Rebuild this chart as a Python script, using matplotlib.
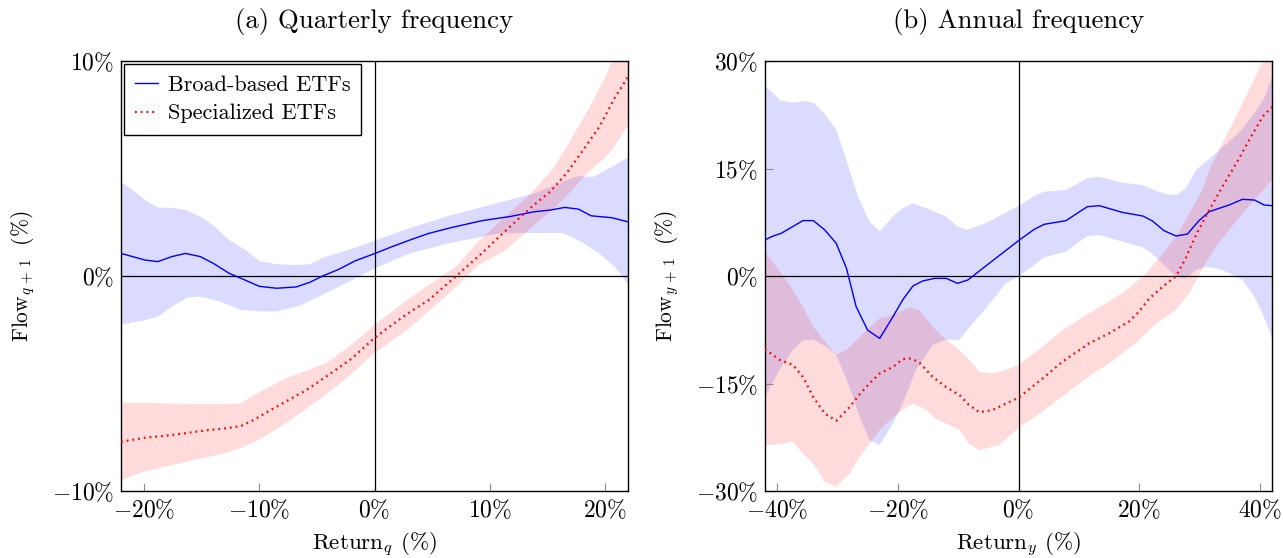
import numpy as np
import matplotlib
matplotlib.use("Agg")
import matplotlib.pyplot as plt
from matplotlib.ticker import FuncFormatter

plt.rcParams['font.family'] = 'cmr10'
plt.rcParams['mathtext.fontset'] = 'cm'
plt.rcParams['axes.unicode_minus'] = False
plt.rcParams['axes.formatter.use_mathtext'] = True

# ---------------- Panel (a): quarterly ----------------
bb_q_x = [-22.0, -19.9, -18.8, -17.6, -16.4, -15.1, -13.9, -12.6, -11.4, -10.0, -8.5, -6.8, -5.6, -4.5, -3.1,
          -1.7, 0.0, 1.5, 3.0, 4.7, 6.5, 9.3, 10.9, 11.7, 13.9, 15.3, 16.5, 17.7, 18.8, 20.6, 22.0]
bb_q_y = [1.05, 0.74, 0.67, 0.90, 1.05, 0.90, 0.56, 0.12, -0.15, -0.48, -0.57, -0.51, -0.29, 0.0, 0.31,
          0.70, 1.04, 1.36, 1.66, 1.98, 2.23, 2.57, 2.70, 2.76, 2.99, 3.07, 3.19, 3.11, 2.80, 2.71, 2.52]
bb_q_hi_x = [-22.0, -20.8, -19.9, -18.8, -17.6, -16.4, -15.1, -13.9, -12.6, -11.2, -10.0, -8.5, -6.8, -5.6,
             -4.5, -2.0, 0.0, 3.0, 6.5, 8.6, 10.9, 13.9, 16.3, 17.6, 19.0, 20.6, 22.0]
bb_q_hi = [4.38, 3.92, 3.53, 3.19, 3.17, 3.07, 2.76, 2.32, 1.67, 1.21, 0.70, 0.55, 0.50, 0.55,
           0.85, 1.25, 1.64, 2.22, 2.81, 3.10, 3.43, 3.84, 4.38, 4.64, 4.61, 5.08, 5.51]
bb_q_lo_x = [-22.0, -20.1, -18.8, -17.6, -16.2, -15.1, -13.4, -11.6, -10.0, -8.5, -6.5, -4.5, -2.75, 0.0,
             3.0, 6.5, 10.9, 13.5, 16.3, 17.7, 19.5, 20.9, 22.0]
bb_q_lo = [-2.25, -2.08, -1.89, -1.43, -0.99, -0.96, -1.19, -1.58, -1.65, -1.65, -1.38, -0.87, -0.41, 0.35,
           1.04, 1.53, 1.99, 2.0, 2.0, 1.67, 1.05, 0.4, -0.4]

sp_q_x = [-22.0, -19.9, -18.3, -16.5, -14.8, -13.0, -11.6, -10.5, -9.1, -7.7, -5.9, -4.2, -2.0, 0.0, 1.5,
          2.9, 4.7, 7.1, 9.3, 10.9, 13.5, 15.3, 16.7, 18.1, 19.5, 20.9, 22.0]
sp_q_y = [-7.71, -7.52, -7.44, -7.32, -7.19, -7.09, -6.98, -6.70, -6.26, -5.84, -5.30, -4.68, -3.85, -2.88,
          -2.28, -1.74, -1.12, 0.0, 1.05, 1.87, 3.15, 3.95, 4.80, 5.85, 6.93, 8.33, 9.26]
sp_q_band_x = [-22.0, -20.0, -16.0, -13.0, -11.6, -10.0, -7.7, -4.2, -2.0, 0.0, 3.0, 7.1, 9.0, 11.4, 13.5,
               15.5, 17.0, 18.5, 20.0, 20.6, 22.0]
sp_q_hi = [-5.89, -5.90, -5.95, -5.95, -5.92, -5.40, -4.76, -4.06, -3.20, -2.27, -1.05, 0.45, 1.60, 2.80,
           3.80, 5.00, 6.30, 7.70, 9.20, 10.0, 11.7]
sp_q_lo = [-9.49, -9.10, -8.60, -8.25, -8.00, -7.60, -6.85, -5.53, -4.55, -3.58, -2.45, -0.50, 0.50, 1.20,
           2.20, 3.10, 3.90, 4.80, 5.50, 5.85, 7.0]

# ---------------- Panel (b): annual ----------------
bb_y_x = [-42.0, -40.9, -39.3, -37.4, -35.7, -34.0, -32.1, -30.2, -28.5, -26.9, -25.0, -23.0, -20.8, -19.2,
          -17.5, -15.9, -13.9, -12.0, -10.1, -8.4, -4.85, 0.0, 2.6, 4.25, 7.85, 11.4, 13.4, 17.2, 20.6, 22.2,
          24.1, 26.1, 28.0, 29.9, 31.6, 34.9, 37.1, 39.1, 40.7, 42.0]
bb_y_y = [5.03, 5.5, 5.96, 6.9, 7.73, 7.73, 6.43, 4.56, 1.07, -4.28, -7.55, -8.71, -5.68, -3.35,
          -1.4, -0.7, -0.33, -0.33, -1.02, -0.56, 1.77, 4.93, 6.51, 7.21, 7.72, 9.67, 9.81, 8.88, 8.37, 7.67,
          6.33, 5.58, 5.86, 7.72, 8.98, 9.91, 10.7, 10.6, 9.91, 9.81]
bb_y_hi_x = [-42.0, -39.5, -37.6, -35.7, -34.0, -31.9, -30.2, -28.6, -26.6, -24.7, -23.0, -20.8, -19.2,
             -17.5, -15.3, -12.0, -10.1, -8.4, -4.85, 0.0, 2.6, 4.25, 7.85, 11.4, 13.4, 17.2, 20.6, 22.2,
             24.4, 26.1, 27.7, 29.4, 32.0, 33.7, 36.4, 39.1, 40.8, 42.0]
bb_y_hi = [26.6, 24.5, 24.2, 24.4, 24.2, 22.4, 20.4, 16.4, 11.1, 7.6, 6.2, 8.3, 9.46,
           10.15, 9.46, 8.3, 6.9, 6.43, 7.6, 9.8, 11.16, 11.77, 12.0, 13.63, 13.86, 13.02, 12.7, 12.09,
           11.44, 11.3, 12.23, 14.8, 16.6, 17.9, 19.9, 22.7, 25.0, 27.8]
bb_y_lo_x = [-42.0, -39.6, -37.4, -35.7, -34.0, -31.8, -30.2, -28.0, -26.3, -24.7, -23.0, -20.8, -19.2,
             -17.0, -14.2, -12.0, -9.8, -7.05, -4.3, -2.1, 0.0, 2.6, 4.25, 7.85, 11.4, 13.4, 17.2, 20.6,
             22.2, 24.1, 26.1, 27.7, 29.4, 31.3, 33.8, 37.1, 39.1, 40.4, 41.5, 42.0]
bb_y_lo = [-16.9, -13.1, -10.3, -9.0, -8.85, -9.9, -11.0, -15.5, -19.7, -22.9, -23.6, -20.6, -17.8,
           -13.1, -9.6, -8.9, -8.9, -6.1, -3.4, -1.0, -0.1, 1.53, 2.6, 3.4, 5.58, 5.72, 4.79, 4.0,
           3.07, 1.53, -0.1, -0.33, 0.84, 1.3, 0.84, -0.56, -2.88, -5.2, -7.5, -8.8]

sp_y_x = [-42.0, -39.6, -37.4, -35.7, -34.0, -32.1, -30.2, -28.0, -26.3, -24.7, -23.0, -20.8, -19.2, -17.8,
          -16.4, -14.2, -12.0, -9.8, -8.2, -6.5, -4.3, -2.1, 0.0, 4.0, 7.3, 11.7, 15.0, 18.3, 19.7, 21.7,
          23.9, 26.1, 27.7, 29.4, 31.6, 33.8, 36.4, 38.5, 40.5, 42.0]
sp_y_y = [-10.2, -11.7, -12.4, -14.1, -16.9, -19.2, -20.2, -18.3, -16.5, -15.0, -13.6, -12.7, -11.6, -11.5,
          -12.1, -14.1, -15.5, -16.6, -18.0, -19.0, -18.7, -17.8, -17.0, -14.3, -11.95, -9.4, -8.0, -6.37,
          -5.2, -3.12, -1.49, 0.0, 2.47, 5.72, 9.2, 12.47, 16.2, 19.4, 22.3, 23.6]
sp_y_hi_x = [-42.0, -37.9, -35.7, -34.0, -31.8, -30.2, -28.5, -26.3, -23.0, -21.4, -18.1, -16.4, -14.2,
             -12.0, -9.8, -7.6, -6.5, -4.3, -2.1, 0.0, 4.0, 7.3, 11.7, 15.0, 18.3, 21.1, 23.3, 26.1, 28.3,
             30.5, 31.6, 33.8, 36.6, 40.5, 42.0]
sp_y_hi = [3.4, -1.26, -4.3, -7.1, -9.4, -11.0, -10.3, -8.5, -5.9, -5.6, -4.4, -4.75, -7.1,
           -8.9, -10.3, -12.2, -13.4, -13.6, -13.1, -12.4, -9.86, -7.53, -5.2, -3.58, -1.72, 0.37, 2.47,
           5.49, 8.74, 12.0, 14.8, 18.5, 23.2, 30.0, 32.5]
sp_y_lo_x = [-42.0, -39.6, -37.4, -35.7, -34.0, -32.1, -30.2, -28.0, -26.3, -24.7, -23.0, -20.8, -19.2,
             -17.5, -15.3, -13.7, -12.0, -9.8, -8.2, -6.5, -3.2, 0.0, 4.0, 7.3, 11.7, 15.0, 19.4, 22.8,
             26.1, 28.3, 30.5, 32.7, 34.9, 37.1, 39.3, 41.5, 42.0]
sp_y_lo = [-23.6, -23.5, -23.1, -24.8, -26.2, -28.7, -29.4, -27.6, -25.2, -23.4, -21.5, -19.7, -18.7,
           -17.8, -18.7, -19.9, -20.6, -21.5, -23.4, -24.3, -23.6, -21.2, -18.9, -16.8, -14.0, -12.2,
           -9.4, -6.6, -4.74, -2.4, 1.07, 4.09, 6.42, 8.74, 10.8, 12.9, 13.3]

titles = ["(a) Quarterly frequency", "(b) Annual frequency"]
xlabels = [r"Return$_q$ (%)", r"Return$_y$ (%)"]
ylabels = [r"Flow$_{q\,+\,1}$ $\;$(%)", r"Flow$_{y\,+\,1}$ $\;$(%)"]
legend_labels = ["Broad-based ETFs", "Specialized ETFs"]
xticks_q = [-20, -10, 0, 10, 20]
yticks_q = [-10, 0, 10]
xticks_y = [-40, -20, 0, 20, 40]
yticks_y = [-30, -15, 0, 15, 30]

BLUE = "#0000ff"
RED = "#ff0000"
FILL_A = 0.14

W, H = 1283, 558
fig = plt.figure(figsize=(W / 100, H / 100), dpi=100)
ax1 = fig.add_axes([121 / W, 1 - 491 / H, 507 / W, 430 / H])
ax2 = fig.add_axes([765 / W, 1 - 491 / H, 507 / W, 430 / H])

pct = FuncFormatter(lambda v, p: r"$%d\%%$" % round(v))


def band(ax, xh, hi, xl, lo, color):
    xs = np.concatenate([np.asarray(xh), np.asarray(xl)[::-1]])
    ys = np.concatenate([np.asarray(hi), np.asarray(lo)[::-1]])
    ax.fill(xs, ys, color=color, alpha=FILL_A, lw=0, zorder=1)


panels = [
    (ax1, (bb_q_x, bb_q_y, bb_q_hi_x, bb_q_hi, bb_q_lo_x, bb_q_lo),
     (sp_q_x, sp_q_y, sp_q_band_x, sp_q_hi, sp_q_band_x, sp_q_lo), (-22, 22), (-10, 10), xticks_q, yticks_q),
    (ax2, (bb_y_x, bb_y_y, bb_y_hi_x, bb_y_hi, bb_y_lo_x, bb_y_lo),
     (sp_y_x, sp_y_y, sp_y_hi_x, sp_y_hi, sp_y_lo_x, sp_y_lo), (-42, 42), (-30, 30), xticks_y, yticks_y),
]

for i, (ax, bb, sp, xl, yl, xt, yt) in enumerate(panels):
    band(ax, bb[2], bb[3], bb[4], bb[5], BLUE)
    band(ax, sp[2], sp[3], sp[4], sp[5], RED)
    ax.axhline(0, color="black", lw=0.9, zorder=2)
    ax.axvline(0, color="black", lw=0.9, zorder=2)
    ax.plot(bb[0], bb[1], color=BLUE, lw=1.0, zorder=3, label=legend_labels[0])
    ax.plot(sp[0], sp[1], color=RED, lw=1.6, linestyle=(0, (0.8, 1.8)), zorder=3, label=legend_labels[1])
    ax.set_xlim(*xl)
    ax.set_ylim(*yl)
    ax.set_xticks(xt)
    ax.set_yticks(yt)
    ax.xaxis.set_major_formatter(pct)
    ax.yaxis.set_major_formatter(pct)
    ax.tick_params(direction="in", length=6, width=0.8, color="0.55", labelsize=17, pad=5)
    for s in ax.spines.values():
        s.set_linewidth(1.0)
        s.set_color("black")
    ax.set_title(titles[i], fontsize=19.3, pad=24)
    ax.set_xlabel(xlabels[i], fontsize=16.6, va="center")
    ax.xaxis.set_label_coords(0.5, -(545 - 491) / 430)
    ax.set_ylabel(ylabels[i], fontsize=15.5, va="center")
    ax.yaxis.set_label_coords(-(121 - 23) / 507, 0.5)

leg = ax1.legend(loc="upper left", fontsize=16, frameon=True, fancybox=False, edgecolor="black",
                 framealpha=1, handlelength=1.0, handletextpad=0.45, borderpad=0.5, labelspacing=0.4,
                 borderaxespad=0.15)
leg.get_frame().set_linewidth(1.0)

fig.savefig("out.png", dpi=100)
